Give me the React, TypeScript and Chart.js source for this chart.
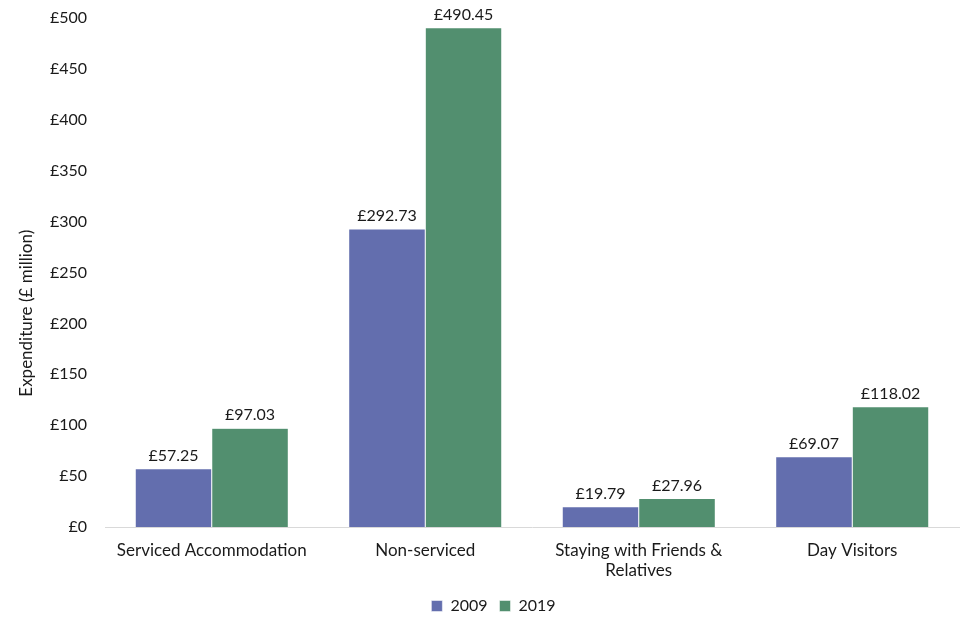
import React, { useEffect, useRef } from "react";
import { Chart, registerables } from "chart.js";

Chart.register(...registerables);

const categories: (string | string[])[] = [
  "Serviced Accommodation",
  "Non-serviced",
  ["Staying with Friends &", "Relatives"],
  "Day Visitors",
];
const values2009 = [57.25, 292.73, 19.79, 69.07];
const values2019 = [97.03, 490.45, 27.96, 118.02];
const seriesLabels = ["2009", "2019"];
const yTitle = "Expenditure (£ million)";

const FONT = "Lato, 'Open Sans', sans-serif";
const TEXT = "#1a1a1a";

const dataLabelPlugin = {
  id: "dataLabels",
  afterDatasetsDraw(chart: any) {
    const ctx = chart.ctx;
    ctx.save();
    ctx.font = `16px ${FONT}`;
    ctx.fillStyle = TEXT;
    ctx.textAlign = "center";
    ctx.textBaseline = "bottom";
    chart.data.datasets.forEach((ds: any, i: number) => {
      const meta = chart.getDatasetMeta(i);
      meta.data.forEach((bar: any, j: number) => {
        const v = ds.data[j] as number;
        ctx.fillText("£" + v.toFixed(2), bar.x, bar.y - 5);
      });
    });
    ctx.restore();
  },
};

const yTitlePlugin = {
  id: "yTitle",
  afterDraw(chart: any) {
    const { ctx, chartArea } = chart;
    const y = chartArea.top + 0.58 * (chartArea.bottom - chartArea.top);
    ctx.save();
    ctx.translate(27, y);
    ctx.rotate(-Math.PI / 2);
    ctx.font = `17px ${FONT}`;
    ctx.fillStyle = TEXT;
    ctx.textAlign = "center";
    ctx.textBaseline = "middle";
    ctx.fillText(yTitle, 0, 0);
    ctx.restore();
  },
};

const legendShiftPlugin = {
  id: "legendShift",
  afterLayout(chart: any) {
    if (chart.legend) {
      chart.legend.left += 14;
      chart.legend.right += 14;
    }
  },
};

export default function App() {
  const ref = useRef<HTMLCanvasElement>(null);
  useEffect(() => {
    document.body.style.margin = "0";
    const chart = new Chart(ref.current!, {
      type: "bar",
      data: {
        labels: categories,
        datasets: [
          {
            label: seriesLabels[0],
            data: values2009,
            backgroundColor: "#636EAE",
            borderColor: "#ffffff",
            borderWidth: 0.5,
          },
          {
            label: seriesLabels[1],
            data: values2019,
            backgroundColor: "#528F6F",
            borderColor: "#ffffff",
            borderWidth: 0.5,
          },
        ],
      },
      options: {
        animation: false,
        responsive: false,
        maintainAspectRatio: false,
        layout: { padding: { left: 0, right: 2, top: 18, bottom: -6 } },
        datasets: { bar: { categoryPercentage: 0.717, barPercentage: 1 } },
        plugins: {
          legend: {
            position: "bottom",
            labels: {
              boxWidth: 11,
              boxHeight: 11,
              padding: 12,
              color: TEXT,
              font: { size: 16, family: FONT },
            },
          },
          tooltip: { enabled: false },
        },
        scales: {
          x: {
            grid: { display: false, drawTicks: false },
            border: { display: true, color: "#d9d9d9", width: 1 },
            afterFit: (scale: any) => {
              scale.height = 59;
              scale.paddingTop = 0;
              scale.paddingBottom = 0;
            },
            ticks: {
              color: TEXT,
              font: { size: 17, family: FONT },
              padding: 13,
              maxRotation: 0,
              autoSkip: false,
            },
          },
          y: {
            min: 0,
            max: 500,
            grid: { display: false, drawTicks: false },
            border: { display: false },
            afterFit: (scale: any) => {
              scale.width = 105;
              scale.paddingTop = 0;
              scale.paddingBottom = 0;
            },
            ticks: {
              stepSize: 50,
              color: TEXT,
              font: { size: 16, family: FONT },
              padding: 18,
              callback: (v: any) => "£" + v,
            },
          },
        },
      },
      plugins: [dataLabelPlugin, yTitlePlugin, legendShiftPlugin],
    });
    return () => chart.destroy();
  }, []);
  return (
    <div style={{ width: 961, height: 618 }}>
      <canvas ref={ref} width={961} height={618} />
    </div>
  );
}
